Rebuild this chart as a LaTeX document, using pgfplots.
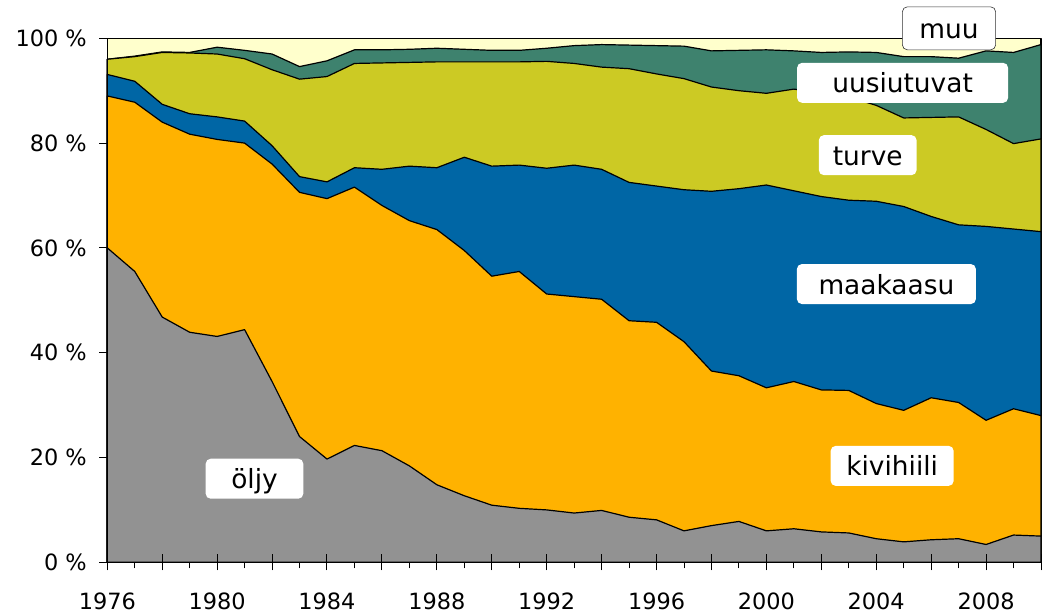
\documentclass[border=0pt]{standalone}
\usepackage{fontspec}
\setmainfont{DejaVu Sans}
\usepackage{pgfplots}
\usepackage{pgfplotstable}
\pgfplotsset{compat=1.18}
\definecolor{coil}{RGB}{146,146,146}
\definecolor{ccoal}{RGB}{255,178,0}
\definecolor{cgas}{RGB}{0,102,165}
\definecolor{cpeat}{RGB}{204,202,36}
\definecolor{cren}{RGB}{62,130,110}
\definecolor{cmuu}{RGB}{255,255,204}
% cumulative shares (top edge of each layer), percent
\pgfplotstableread{
year oil coal gas peat ren tot
1976 60.0 89.0 93.1 96.0 96.0 100
1977 55.5 87.8 91.8 96.5 96.6 100
1978 46.8 84.0 87.4 97.3 97.4 100
1979 43.9 81.7 85.6 97.2 97.3 100
1980 43.1 80.7 85.0 97.0 98.3 100
1981 44.4 80.0 84.2 96.1 97.7 100
1982 34.5 76.0 79.5 94.0 97.0 100
1983 24.0 70.6 73.6 92.2 94.6 100
1984 19.7 69.4 72.6 92.7 95.7 100
1985 22.3 71.6 75.3 95.2 97.8 100
1986 21.3 68.1 75.0 95.3 97.8 100
1987 18.4 65.2 75.6 95.4 97.9 100
1988 14.8 63.5 75.3 95.5 98.1 100
1989 12.7 59.5 77.3 95.5 97.9 100
1990 10.9 54.6 75.6 95.5 97.7 100
1991 10.3 55.5 75.8 95.5 97.7 100
1992 10.0 51.2 75.2 95.6 98.1 100
1993 9.4 50.7 75.8 95.2 98.6 100
1994 9.9 50.2 75.0 94.5 98.8 100
1995 8.6 46.1 72.5 94.2 98.7 100
1996 8.1 45.8 71.8 93.2 98.6 100
1997 6.0 42.1 71.1 92.3 98.5 100
1998 7.0 36.5 70.8 90.7 97.6 100
1999 7.8 35.6 71.3 90.0 97.7 100
2000 6.0 33.3 72.0 89.5 97.8 100
2001 6.4 34.5 70.9 90.3 97.6 100
2002 5.8 32.9 69.8 89.6 97.3 100
2003 5.6 32.8 69.1 88.8 97.4 100
2004 4.5 30.3 68.9 87.2 97.3 100
2005 3.9 29.0 67.9 84.8 96.5 100
2006 4.3 31.4 66.0 84.9 96.5 100
2007 4.5 30.5 64.4 85.0 96.2 100
2008 3.4 27.1 64.1 82.6 97.6 100
2009 5.2 29.3 63.6 79.9 97.3 100
2010 5.0 28.0 63.1 80.8 98.8 100
}\energy
\begin{document}
\begin{tikzpicture}
\useasboundingbox (-107.3bp,-53.7bp) rectangle (934.7bp,562.3bp);
\begin{axis}[
  at={(0,0)}, anchor=south west, scale only axis,
  width=933.7bp, height=524bp,
  xmin=1976, xmax=2010, ymin=0, ymax=100,
  axis lines*=left, axis line style={line width=1bp, black},
  xtick=\empty,
  ytick={0,20,40,60,80,100},
  yticklabels={0 \%,20 \%,40 \%,60 \%,80 \%,100 \%},
  tick align=outside, major tick length=8bp,
  tick style={black, line width=1bp},
  y tick label style={font=\fontsize{22.5}{26}\selectfont, xshift=-9bp},
  clip=false,
  every axis plot/.style={draw=black, line width=1.2bp, line join=round},
]
\addplot[fill=cmuu] table[x=year,y=tot] {\energy} \closedcycle;
\addplot[fill=cren] table[x=year,y=ren] {\energy} \closedcycle;
\addplot[fill=cpeat] table[x=year,y=peat] {\energy} \closedcycle;
\addplot[fill=cgas] table[x=year,y=gas] {\energy} \closedcycle;
\addplot[fill=ccoal] table[x=year,y=coal] {\energy} \closedcycle;
\addplot[fill=coil] table[x=year,y=oil] {\energy} \closedcycle;
\tikzset{lbl/.style={fill=white, rounded corners=5bp, inner xsep=0pt, inner ysep=6bp,
  text height=24bp, text depth=4bp, minimum height=40bp,
  font=\fontsize{26.5}{30}\selectfont}}
\node[lbl, minimum width=97.6bp] at (axis cs:1981.36,15.95) {öljy};
\node[lbl, minimum width=123bp] at (axis cs:2004.58,18.4) {kivihiili};
\node[lbl, minimum width=179bp] at (axis cs:2004.37,53.1) {maakaasu};
\node[lbl, minimum width=97.7bp] at (axis cs:2003.69,77.7) {turve};
\node[lbl, minimum width=211bp] at (axis cs:2004.96,91.5) {uusiutuvat};
\node[lbl, minimum width=93.3bp, draw=black!80, line width=0.6bp, inner ysep=7.5bp] at (axis cs:2006.65,101.9) {muu};
\end{axis}
\begin{axis}[
  at={(0,0)}, anchor=south west, scale only axis,
  width=933.7bp, height=524bp,
  xmin=1976, xmax=2010, ymin=0, ymax=100,
  axis x line*=bottom, axis y line=none,
  axis line style={line width=1bp, black},
  ytick=\empty,
  xtick={1976,1978,...,2010},
  xticklabels={1976,,1980,,1984,,1988,,1992,,1996,,2000,,2004,,2008,},
  minor x tick num=1,
  tick align=center, major tick length=16bp, minor tick length=6bp,
  tick style={black, line width=1bp},
  minor x tick style={yshift=-3bp},
  x tick label style={font=\fontsize{22.5}{26}\selectfont, yshift=-19bp},
]
\addplot[draw=none] coordinates {(1976,0)};
\end{axis}
\end{tikzpicture}
\end{document}
